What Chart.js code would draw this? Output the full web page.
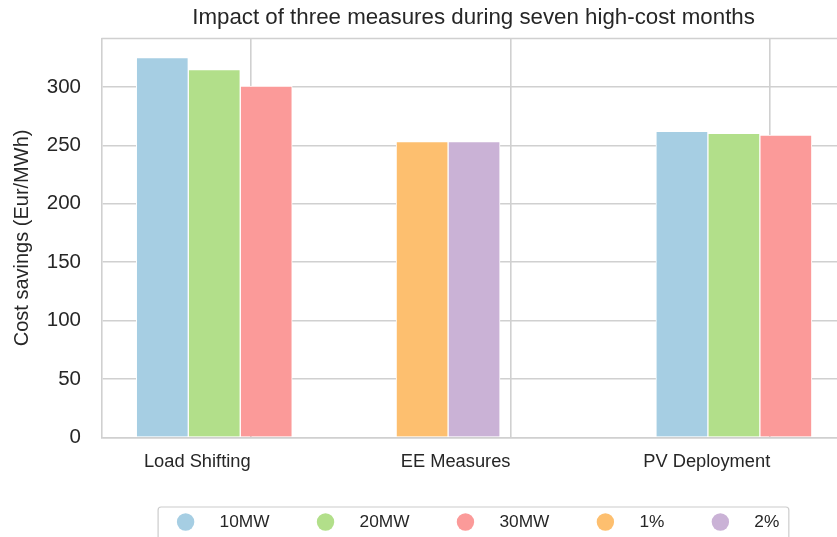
<!DOCTYPE html>
<html>
<head>
<meta charset="utf-8">
<script src="https://cdn.jsdelivr.net/npm/chart.js@4.4.1/dist/chart.umd.min.js"></script>
<style>
  html, body { margin: 0; padding: 0; overflow: hidden; background: #ffffff; }
  #wrap { width: 837px; height: 537px; overflow: hidden; position: relative; }
  canvas { display: block; }
</style>
</head>
<body>
<div id="wrap"><canvas id="c" width="850" height="537" style="width:850px;height:537px"></canvas></div>
<script>
// ---- data ----
const categories = ['Load Shifting', 'EE Measures', 'PV Deployment'];
const seriesNames = ['10MW', '20MW', '30MW', '1%', '2%'];
const values10MW = [325.2, null, 262.0];
const values20MW = [315.0, null, 260.3];
const values30MW = [300.9, null, 258.8];
const values1pct = [null, 253.2, null];
const values2pct = [null, 253.2, null];
const yTicks = [0, 50, 100, 150, 200, 250, 300];

// ---- layout / style ----
const seriesValues = [values10MW, values20MW, values30MW, values1pct, values2pct];
const seriesColors = ['#a6cee3', '#b2df8a', '#fb9a99', '#fdbf6f', '#cab2d6'];
const slotOffsets = [-0.34, -0.14, 0.06, -0.34, -0.14];
const FONT = '"Liberation Sans", Arial, Helvetica, sans-serif';
const TEXT = '#262626';
const GRID = '#d0d0d0';

const datasets = seriesNames.map((name, s) => ({
  label: name,
  data: categories.map((c, i) => seriesValues[s][i] == null ? null : { x: i + slotOffsets[s], y: seriesValues[s][i] })
                  .filter(p => p !== null),
  backgroundColor: seriesColors[s],
  borderColor: '#ffffff',
  borderWidth: 1,
  barThickness: 52,
  grouped: false
}));

const frame = {
  id: 'frame',
  beforeDatasetsDraw(chart) {
    const { ctx, chartArea: a } = chart;
    ctx.save();
    ctx.strokeStyle = GRID;
    ctx.lineWidth = 1.6;
    ctx.beginPath();
    ctx.moveTo(a.left, a.top);
    ctx.lineTo(a.right, a.top);
    ctx.stroke();
    ctx.restore();
  }
};

const boxLegend = {
  id: 'boxLegend',
  afterDraw(chart) {
    const ctx = chart.ctx;
    ctx.save();
    ctx.font = '17.3px ' + FONT;
    const cy = 522;
    let cx = 185.6;
    const items = chart.data.datasets.map(ds => {
      const w = ctx.measureText(ds.label).width;
      const it = { label: ds.label, color: ds.backgroundColor, cx: cx, tx: cx + 34, w: w };
      cx = cx + 34 + w + 56;
      return it;
    });
    const last = items[items.length - 1];
    const left = items[0].cx - 27.5;
    const right = last.tx + last.w + 9.5;
    ctx.fillStyle = '#ffffff';
    ctx.strokeStyle = '#cccccc';
    ctx.lineWidth = 1.2;
    ctx.beginPath();
    ctx.roundRect(left, 507, right - left, 50, 3);
    ctx.fill();
    ctx.stroke();
    items.forEach(it => {
      ctx.fillStyle = it.color;
      ctx.beginPath();
      ctx.arc(it.cx, cy, 8.7, 0, Math.PI * 2);
      ctx.fill();
      ctx.fillStyle = TEXT;
      ctx.textBaseline = 'middle';
      ctx.textAlign = 'left';
      ctx.fillText(it.label, it.tx, cy);
    });
    ctx.restore();
  }
};

new Chart(document.getElementById('c'), {
  type: 'bar',
  data: { datasets: datasets },
  plugins: [frame, boxLegend],
  options: {
    responsive: false,
    animation: false,
    layout: { padding: { left: 0, right: 4.4, top: 0, bottom: 0 } },
    plugins: {
      legend: { display: false },
      tooltip: { enabled: false },
      title: {
        display: true,
        fullSize: false,
        text: 'Impact of three measures during seven high-cost months',
        color: TEXT,
        font: { family: FONT, size: 22.3, weight: 'normal' },
        padding: { top: 4.8, bottom: 7.0 }
      }
    },
    scales: {
      x: {
        type: 'linear',
        min: -0.574,
        max: 2.29,
        offset: false,
        afterBuildTicks: axis => { axis.ticks = categories.map((c, i) => ({ value: i })); },
        afterFit: scale => { scale.height = 99.7; },
        ticks: {
          align: 'end',
          maxRotation: 0,
          autoSkip: false,
          includeBounds: false,
          padding: 13.4,
          color: TEXT,
          font: { family: FONT, size: 18.3 },
          callback: v => categories[v]
        },
        grid: { color: GRID, lineWidth: 1.6, drawTicks: false, offset: false },
        border: { display: true, color: GRID, width: 1.6 }
      },
      y: {
        min: 0,
        max: 341.5,
        afterBuildTicks: axis => { axis.ticks = yTicks.map(v => ({ value: v })); },
        afterFit: scale => { scale.width = 101.5; },
        ticks: {
          includeBounds: false,
          padding: 20.5,
          color: TEXT,
          font: { family: FONT, size: 20.5 }
        },
        grid: { color: GRID, lineWidth: 1.6, drawTicks: false },
        border: { display: true, color: GRID, width: 1.6 },
        title: {
          display: true,
          text: 'Cost savings (Eur/MWh)',
          color: TEXT,
          font: { family: FONT, size: 20 },
          padding: { top: 10, bottom: 0 }
        }
      }
    }
  }
});
</script>
</body>
</html>
